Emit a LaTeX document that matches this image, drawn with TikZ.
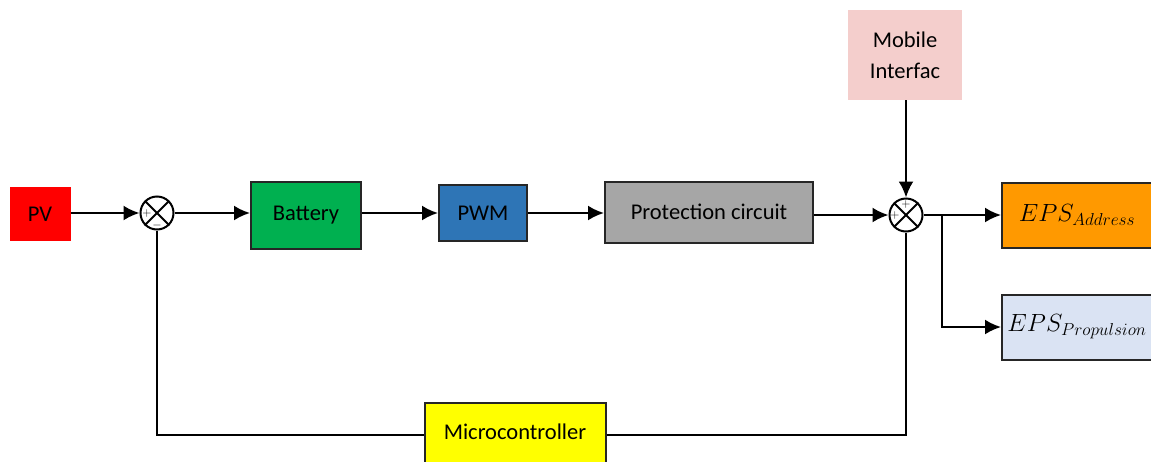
\documentclass[tikz,border=0pt]{standalone}
\usepackage{amsmath,amssymb}
\usepackage{xcolor}
\usepackage{fontspec}
\setmainfont{Carlito}
\usepackage{tikz}
\usetikzlibrary{arrows.meta}

\definecolor{pvred}{RGB}{255,0,0}
\definecolor{batgreen}{RGB}{0,176,80}
\definecolor{pwmblue}{RGB}{46,117,182}
\definecolor{protgray}{RGB}{166,166,166}
\definecolor{mobpink}{RGB}{244,206,204}
\definecolor{addrorange}{RGB}{255,153,0}
\definecolor{propblue}{RGB}{218,227,243}
\definecolor{mcuyellow}{RGB}{255,255,0}

\tikzset{
  blockbox/.style={draw=black!85, line width=2pt, minimum height=#1, inner sep=0pt},
  blockbox/.default=64pt,
  sumnode/.style={circle, draw, line width=2pt, minimum size=33pt, inner sep=0pt},
  wire/.style={line width=2.2pt},
  sign/.style={font=\fontsize{12}{12}\selectfont, inner sep=0pt},
  epsbox/.style={font=\fontsize{27}{30}\selectfont}
}

\begin{document}
\begin{tikzpicture}[x=1pt,y=-1pt,>={Latex[length=16pt,width=15pt]},font=\fontsize{22.5}{27}\selectfont]
\useasboundingbox (0,0) rectangle (1151,461);

\node [fill=pvred, minimum width=61pt, minimum height=54pt] (pv) at (40,214) {PV};
\node [sumnode] (sumin) at (157,213) {};
\draw [line width=1.8pt] (sumin.north west) -- (sumin.south east);
\draw [line width=1.8pt] (sumin.north east) -- (sumin.south west);
\node [sign] at (147,213) {$+$};
\node [sign] at (157,225) {$-$};

\node [blockbox=67pt, fill=batgreen, minimum width=110pt] (bat) at (306,215) {Battery};
\node [blockbox=56pt, fill=pwmblue, minimum width=88pt] (pwm) at (483,213) {PWM};
\node [blockbox=61pt, fill=protgray, minimum width=208pt] (prot) at (709,212) {Protection circuit};

\node [sumnode] (sumout) at (906,215) {};
\draw [line width=1.8pt] (sumout.north west) -- (sumout.south east);
\draw [line width=1.8pt] (sumout.north east) -- (sumout.south west);
\node [sign] at (906,204) {$+$};
\node [sign] at (895,215) {$+$};

\node [fill=mobpink, minimum width=114pt, minimum height=90pt, align=center] (mob) at (905,55) {Mobile\\[4pt]Interfac};

\node [blockbox=65pt, epsbox, fill=addrorange, minimum width=150pt] (addr) at (1077,215) {$EPS_{Address}$};
\node [blockbox=65pt, epsbox, fill=propblue, minimum width=150pt] (prop) at (1077,327) {$EPS_{Propulsion}$};

\node [blockbox=64pt, fill=mcuyellow, minimum width=181pt] (mcu) at (515,435) {\raisebox{6pt}{Microcontroller}};

% forward path
\draw [wire,->] (pv.east |- sumin) -- (sumin);
\draw [wire,->] (sumin) -- (bat.west |- sumin);
\draw [wire,->] (bat.east |- pwm) -- (pwm);
\draw [wire,->] (pwm) -- (prot.west |- pwm);
\draw [wire,->] (prot.east |- sumout) -- (sumout);
\draw [wire,->] (mob.south -| sumout) -- (sumout);

% outputs
\coordinate (split) at (942,215);
\draw [wire,->] (sumout) -- (addr);
\draw [wire,->] (split) |- (prop);

% feedback loop
\draw [wire] (sumin) |- (mcu.west |- 0,435);
\draw [wire] (mcu.east |- 0,435) -| (sumout);

\end{tikzpicture}
\end{document}
